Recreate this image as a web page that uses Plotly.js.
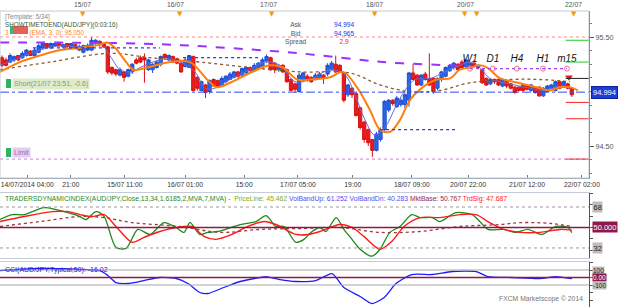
<!DOCTYPE html>
<html>
<head>
<meta charset="utf-8">
<script src="https://cdn.plot.ly/plotly-3.0.1.min.js"></script>
<style>
html,body{margin:0;padding:0;background:#fff;overflow:hidden}
#chart{width:625px;height:307px}
</style>
</head>
<body>
<div id="chart"></div>
<script>
// ================= DATA =================
const candleOpen = [
95.31,95.29,95.27,95.29,95.33,95.31,95.33,95.37,95.33,95.36,
95.40,95.44,95.40,95.42,95.44,95.41,95.44,95.40,95.43,95.38,
95.36,95.38,95.38,95.44,95.46,95.44,95.41,95.22,95.20,95.15,
95.18,95.14,95.18,95.29,95.31,95.31,95.20,95.20,95.22,95.25,
95.34,95.29,95.32,95.30,95.26,95.23,95.22,95.32,95.13,95.01,
95.06,95.00,95.11,95.10,95.06,95.09,95.11,95.13,95.18,95.15,
95.17,95.22,95.19,95.22,95.23,95.28,95.31,95.26,95.20,95.24,
95.20,95.11,95.07,95.00,95.11,95.14,95.13,95.11,95.12,95.15,
95.16,95.20,95.25,95.24,95.17,94.97,95.03,94.98,94.85,94.72,
94.65,94.56,94.46,94.56,94.65,94.83,94.92,94.86,94.88,94.88,
94.92,95.17,95.15,95.06,95.16,95.12,95.12,95.03,95.11,95.14,
95.19,95.22,95.25,95.27,95.23,95.23,95.26,95.22,95.20,95.12,
95.07,95.11,95.11,95.05,95.09,95.07,95.04,95.04,95.06,95.05,
95.01,95.04,95.04,94.96,95.00,95.03,95.01,95.09,95.04,95.07,
95.03];
const candleHigh = [
95.33,95.31,95.35,95.33,95.33,95.37,95.39,95.38,95.40,95.44,
95.44,95.44,95.45,95.44,95.44,95.44,95.44,95.44,95.44,95.43,
95.43,95.44,95.50,95.48,95.47,95.45,95.42,95.23,95.21,95.22,
95.19,95.21,95.26,95.31,95.33,95.35,95.30,95.26,95.28,95.33,
95.35,95.34,95.33,95.31,95.27,95.31,95.33,95.33,95.14,95.10,
95.07,95.11,95.12,95.11,95.14,95.15,95.18,95.19,95.19,95.22,
95.23,95.23,95.26,95.27,95.31,95.34,95.32,95.27,95.25,95.25,
95.21,95.12,95.08,95.17,95.18,95.16,95.14,95.17,95.18,95.16,
95.26,95.28,95.33,95.25,95.18,95.07,95.04,94.99,94.86,94.73,
94.66,94.56,94.63,94.67,94.92,94.93,94.93,94.96,94.94,94.99,
95.18,95.25,95.16,95.16,95.18,95.35,95.13,95.13,95.19,95.23,
95.25,95.27,95.26,95.29,95.30,95.27,95.29,95.25,95.21,95.13,
95.12,95.12,95.12,95.12,95.10,95.08,95.05,95.05,95.07,95.06,
95.07,95.05,95.05,95.04,95.06,95.07,95.10,95.10,95.10,95.08,
95.04];
const candleLow = [
95.22,95.23,95.26,95.27,95.28,95.30,95.32,95.33,95.33,95.35,
95.39,95.40,95.39,95.41,95.41,95.40,95.40,95.39,95.39,95.37,
95.35,95.37,95.37,95.42,95.41,95.40,95.16,95.15,95.14,95.14,
95.09,95.13,95.16,95.25,95.26,95.08,95.19,95.17,95.21,95.23,
95.29,95.28,95.26,95.25,95.17,95.22,95.22,95.00,95.01,95.00,
94.94,94.98,95.04,95.03,95.05,95.08,95.11,95.12,95.12,95.14,
95.16,95.18,95.18,95.20,95.22,95.26,95.19,95.17,95.18,95.17,
95.08,95.00,94.99,94.99,95.09,95.09,95.08,95.10,95.11,95.07,
95.14,95.19,95.17,95.17,94.90,94.95,94.94,94.77,94.65,94.53,
94.50,94.40,94.45,94.54,94.63,94.81,94.87,94.85,94.86,94.85,
94.86,95.11,95.05,95.05,95.10,95.05,94.98,95.01,95.09,95.13,
95.18,95.20,95.19,95.21,95.22,95.22,95.22,95.21,95.07,95.05,
95.06,95.07,95.05,95.04,95.03,95.02,94.98,95.00,95.00,95.01,
95.00,94.98,94.95,94.95,95.00,95.02,95.00,95.02,95.03,95.02,
94.95];
const candleClose = [
95.24,95.24,95.33,95.32,95.29,95.35,95.38,95.33,95.38,95.42,
95.44,95.41,95.44,95.44,95.42,95.43,95.41,95.44,95.40,95.41,
95.42,95.42,95.47,95.47,95.43,95.41,95.18,95.17,95.16,95.20,
95.13,95.20,95.25,95.26,95.27,95.29,95.29,95.25,95.27,95.32,
95.31,95.33,95.27,95.26,95.18,95.29,95.33,95.01,95.03,95.09,
94.99,95.10,95.05,95.05,95.12,95.14,95.16,95.18,95.14,95.21,
95.22,95.19,95.24,95.26,95.29,95.32,95.20,95.20,95.24,95.18,
95.09,95.01,95.02,95.15,95.17,95.11,95.09,95.15,95.16,95.12,
95.24,95.26,95.18,95.18,94.92,95.06,94.97,94.78,94.67,94.56,
94.53,94.46,94.61,94.65,94.91,94.92,94.89,94.94,94.92,94.97,
95.17,95.11,95.06,95.15,95.11,95.06,95.00,95.12,95.18,95.22,
95.24,95.26,95.20,95.22,95.29,95.26,95.23,95.24,95.08,95.06,
95.11,95.09,95.06,95.11,95.05,95.03,94.99,95.01,95.01,95.02,
95.06,94.99,94.96,95.03,95.05,95.06,95.09,95.03,95.09,95.03,
94.97];

// Moving averages on price panel (bar index, price)
const emaIdx = [-0.5,4.4,9.3,14.3,19.2,24.1,25.8,27.8,30.7,32.2,35.6,41.3,46.2,50.4,52.8,56,60.9,65.8,69,72.5,75.7,80.6,83.8,87.2,90.4,92.9,95.3,97.8,100.2,103.4,106.9,110.1,112.5,115,117.4,119.2,122.4,125.6,129,132.2,134.6,137.1,139.6,141.5];
const emaVal = [95.18,95.27,95.33,95.38,95.40,95.43,95.45,95.40,95.26,95.20,95.22,95.27,95.27,95.11,95.04,95.08,95.17,95.24,95.22,95.11,95.11,95.13,95.18,95.04,94.83,94.65,94.63,94.74,94.92,95.04,95.11,95.12,95.20,95.22,95.24,95.22,95.12,95.09,95.06,95.03,95.01,95.04,95.04,95.01];
const fastIdx = [-0.5,4.4,9.3,14.3,19.2,24.1,26.5,29,31.4,35.1,38.8,42.5,47.4,49.9,52.3,56,60.9,64.6,68.3,72,75.7,80.6,84.3,86.7,89.2,91.6,94.1,96.6,99,101.5,105.2,108.8,112.5,115,117.4,119.9,124.8,129.7,133.4,137.1,139.6];
const fastVal = [95.24,95.31,95.38,95.42,95.41,95.44,95.33,95.20,95.18,95.24,95.29,95.29,95.18,95.03,95.03,95.11,95.20,95.27,95.24,95.09,95.11,95.20,95.15,94.97,94.74,94.60,94.67,94.85,95.01,95.11,95.12,95.18,95.24,95.27,95.22,95.12,95.07,95.03,95.01,95.05,95.03];
const slowIdx = [-0.5,11.8,26.5,36.4,48.6,60.9,73.2,85.5,92.9,100.2,107.6,115,124.8,132.2,139.6];
const slowVal = [95.20,95.27,95.35,95.31,95.27,95.22,95.18,95.17,95.06,95.00,95.01,95.08,95.11,95.11,95.09];
const longIdx = [-0.5,33.9,51.1,73.2,93.6,110.1,115];
const longVal = [95.45,95.44,95.41,95.35,95.27,95.24,95.23];

// Pivot markers
const pivotIdx = [115,120.6,126.5,132.9,138.8];
const pivotVal = [95.21,95.21,95.21,95.21,95.21];
const pivotText = ['W1','D1','H4','H1','m15'];
const signalIdx = [139.3];
const signalVal = [95.13];

// Levels
const orderPrice = 94.994;
const stopLevel = 95.50;
const limitLevel = 94.38;
const rightLevels = [95.47,95.27,95.12,94.90,94.75,94.38];
const rightLevelColors = ['#22cc22','#22cc22','#222222','#ff2222','#ff2222','#ff2222'];
const srStart = [7.6,44.5,92.9];
const srEnd = [38.8,63.4,111.3];
const srLevel = [95.40,95.31,94.65];

// Axis labels
const priceTickVals = [94.5,95.5];
const priceTickText = ['94.50','95.50'];
const bottomTickIdx = [6.2,16.9,30.2,45,59.5,72.7,86.2,100.7,114.5,129,142.5];
const bottomTickText = ['14/07/2014 04:00','21:00','15/07 11:00','16/07 01:00','15:00','17/07 05:00','19:00','18/07 09:00','20/07 22:00','21/07 12:00','22/07 02:00'];
const dayIdx = [18,42,66,90,115,139];
const dayLabelIdx = [19.9,42.7,65.4,91.6,113.8,140.5];
const dayText = ['15/07','16/07','17/07','18/07','20/07','22/07'];
const triIdx = [19.9,43.7,66.3,91.6,113.8,116.7,140.5];

// TDI
const tdiIdx = [-0.5,2.5,5.4,10.3,13.3,16.2,19.2,20.6,23.1,25.1,28,30.5,33.4,36.4,39.8,42.8,44.7,46.2,48.6,50.6,53.1,58.5,62.4,64.9,67.3,69.3,72.2,74.2,76.2,78.1,79.6,82.1,84,86,88,90.9,92.9,95.3,97.8,100.7,102.7,105.7,107.6,111.5,115.5,117.4,119.4,123.3,126.3,129.2,132.7,136.1,139.1,140];
const tdiPrice = [57,61.3,61.3,67.4,65.7,63,59.6,57,63.9,59.6,32.6,31.7,48.3,43.9,54.3,50,45.7,54.3,43.9,45.7,46.5,52.6,55.2,60.4,50.9,50.9,37,39.6,46.5,50,46.5,58.7,48.3,39.6,30.9,24.8,30.9,45.7,50.9,61.3,58.7,58.7,55.2,63,61.3,55.2,48.3,48.3,45.7,48.3,43.9,50.9,50,45.5];
const sigIdx = [-0.5,5.4,12.3,16.2,19.2,22.1,25.1,28,32,34.9,38.8,42.8,46.7,49.6,52.6,56.5,60.4,64.4,67.3,72.2,75.2,78.1,83,86,88.9,92.9,95.8,98.8,102.7,107.6,112.5,116.5,119.4,123.3,127.3,132.2,137.1,140];
const tdiSignal = [55.2,59.6,63.9,63.9,61.3,59.6,61.3,50.9,37,41.3,46.5,50,50.9,42.2,39.6,43.9,50.9,55.2,52.6,43.9,43.9,46.5,52.6,50,42.2,30.9,37.8,50.9,58.7,58.7,61.3,61.3,55.2,48.3,45.7,45.7,48.3,47.7];
const baseIdx = [-0.5,9.3,19.2,25.1,32,43.7,53.6,63.4,73.2,83,92.9,102.7,112.5,122.4,127.3,135,140];
const tdiBase = [50.9,55.2,59.6,58.7,54.3,50.9,45.7,48.3,49.1,50,45.7,46.5,50.9,52.6,54.3,53.5,50.8];
const tdiLevels = [68,50,32];
const tdiLevelText = ['68','50.000','32'];
const tdiLegendNames = ['PriceLine','VolBandUp','VolBandDn','MktBase','TrdSig'];
const tdiLegendValues = ['45.462','61.252','40.283','50.767','47.687'];

// CCI
const cciIdx = [-0.5,9.3,19.2,24.1,26,28,31,34.9,38.8,42.8,45.7,48.6,50.6,54.5,58.5,63.4,64.9,68.3,72.2,77.1,81.1,84,88,90.9,93.9,96.8,100.7,105.7,110.6,116.5,119.4,125.3,132.2,136.1,140];
const cciVal = [93,120,107,93,27,-67,-80,-40,0,-13,-80,-200,-213,-133,-53,0,13,-27,-53,-40,53,-133,-253,-347,-267,-80,40,40,80,80,13,0,-13,13,-16];
const cciLevels = [100,0,-100];
const cciLevelText = ['100','0.00','-100'];
const cciLast = '-16.02';

// Quote box
const askPrice = '94.994', bidPrice = '94.965', spread = '2.9';

// ================= LAYOUT =================
const W = 625, H = 307;
const FONT = 'Liberation Sans, Arial, sans-serif';
const xRange = [-0.49, 144.23];
const xDomain = [0, 589 / W];
const barIndex = candleOpen.map((_, i) => i);
const PX = v => v / W, PY = v => 1 - v / H;

function txt(x, y, text, color, extra) {
  return Object.assign({xref:'paper', yref:'paper', x:PX(x), y:PY(y), text:text, showarrow:false,
    xanchor:'left', yanchor:'middle', font:{family:FONT, size:7, color:color}}, extra || {});
}

const traces = [];
traces.push({type:'candlestick', x:barIndex, open:candleOpen, high:candleHigh, low:candleLow, close:candleClose,
  xaxis:'x', yaxis:'y', whiskerwidth:0, hoverinfo:'skip',
  increasing:{line:{color:'#1f4fd0', width:1}, fillcolor:'#2a66e6'},
  decreasing:{line:{color:'#dd1111', width:1}, fillcolor:'#e81c1c'}});
traces.push({type:'scatter', mode:'lines', x:longIdx, y:longVal, xaxis:'x', yaxis:'y',
  line:{color:'#9b30ff', width:2, dash:'dash', shape:'spline'}, hoverinfo:'skip'});
traces.push({type:'scatter', mode:'lines', x:slowIdx, y:slowVal, xaxis:'x', yaxis:'y',
  line:{color:'#8b5a2b', width:1.3, dash:'dot', shape:'spline'}, hoverinfo:'skip'});
traces.push({type:'scatter', mode:'lines', x:fastIdx, y:fastVal, xaxis:'x', yaxis:'y',
  line:{color:'#6a6ad8', width:1, shape:'spline'}, hoverinfo:'skip'});
traces.push({type:'scatter', mode:'lines', x:emaIdx, y:emaVal, xaxis:'x', yaxis:'y',
  line:{color:'#ff7f0e', width:2, shape:'spline'}, hoverinfo:'skip'});
traces.push({type:'scatter', mode:'lines+markers+text', x:pivotIdx, y:pivotVal, text:pivotText, xaxis:'x', yaxis:'y',
  textposition:'top center', textfont:{family:FONT, size:10, style:'italic', color:'#111'},
  line:{color:'#a040f0', width:1.2, dash:'dot'}, marker:{symbol:'circle-open', size:5, color:'#f07090', line:{width:1}}, hoverinfo:'skip'});
traces.push({type:'scatter', mode:'markers', x:signalIdx, y:signalVal, xaxis:'x', yaxis:'y',
  marker:{symbol:'triangle-down', size:7, color:'#e02020'}, hoverinfo:'skip'});
// TDI
traces.push({type:'scatter', mode:'lines', x:baseIdx, y:tdiBase, xaxis:'x3', yaxis:'y2',
  line:{color:'#9a3a3a', width:1.3, dash:'dot', shape:'spline'}, hoverinfo:'skip'});
traces.push({type:'scatter', mode:'lines', x:tdiIdx, y:tdiPrice, xaxis:'x3', yaxis:'y2',
  line:{color:'#1a8a1a', width:1.3, shape:'spline', smoothing:0.8}, hoverinfo:'skip'});
traces.push({type:'scatter', mode:'lines', x:sigIdx, y:tdiSignal, xaxis:'x3', yaxis:'y2',
  line:{color:'#ff1a1a', width:1.4, shape:'spline', smoothing:0.8}, hoverinfo:'skip'});
// CCI
traces.push({type:'scatter', mode:'lines', x:cciIdx, y:cciVal, xaxis:'x4', yaxis:'y3',
  line:{color:'#1a1aff', width:1.3, shape:'spline', smoothing:0.6}, hoverinfo:'skip'});

const shapes = [];
shapes.push({type:'line', xref:'x', yref:'y', x0:xRange[0], x1:xRange[1], y0:stopLevel, y1:stopLevel, line:{color:'#ff8a8a', width:1, dash:'dot'}});
shapes.push({type:'line', xref:'x', yref:'y', x0:xRange[0], x1:xRange[1], y0:limitLevel, y1:limitLevel, line:{color:'#c77ee0', width:1, dash:'dot'}});
shapes.push({type:'line', xref:'x', yref:'y', x0:xRange[0], x1:xRange[1], y0:orderPrice, y1:orderPrice, line:{color:'#3048f0', width:1, dash:'dashdot'}});
srLevel.forEach((lv, k) => shapes.push({type:'line', xref:'x', yref:'y', x0:srStart[k], x1:srEnd[k], y0:lv, y1:lv, line:{color:'#2a3ae8', width:1.2, dash:'dot'}}));
rightLevels.forEach((lv, k) => shapes.push({type:'line', xref:'x', yref:'y', x0:138.5, x1:xRange[1], y0:lv, y1:lv, line:{color:rightLevelColors[k], width:1}}));
shapes.push({type:'line', xref:'x3', yref:'y2', x0:xRange[0], x1:xRange[1], y0:tdiLevels[0], y1:tdiLevels[0], line:{color:'#999', width:1, dash:'dot'}});
shapes.push({type:'line', xref:'x3', yref:'y2', x0:xRange[0], x1:xRange[1], y0:tdiLevels[2], y1:tdiLevels[2], line:{color:'#999', width:1, dash:'dot'}});
shapes.push({type:'line', xref:'x3', yref:'y2', x0:xRange[0], x1:xRange[1], y0:tdiLevels[1], y1:tdiLevels[1], line:{color:'#8b1a4a', width:1.3}});
shapes.push({type:'line', xref:'x4', yref:'y3', x0:xRange[0], x1:xRange[1], y0:cciLevels[0], y1:cciLevels[0], line:{color:'#a8a8a8', width:1.2}});
shapes.push({type:'line', xref:'x4', yref:'y3', x0:xRange[0], x1:xRange[1], y0:cciLevels[2], y1:cciLevels[2], line:{color:'#a8a8a8', width:1.2}});
shapes.push({type:'line', xref:'x4', yref:'y3', x0:xRange[0], x1:xRange[1], y0:cciLevels[1], y1:cciLevels[1], line:{color:'#8b1a4a', width:1.3}});
shapes.push({type:'rect', xref:'paper', yref:'paper', x0:PX(0), x1:PX(589), y0:PY(178), y1:PY(11), line:{color:'#c3ccd6', width:1}});
shapes.push({type:'rect', xref:'paper', yref:'paper', x0:PX(6), x1:PX(11), y0:PY(88), y1:PY(79), fillcolor:'#2db368', line:{width:0}});
shapes.push({type:'rect', xref:'paper', yref:'paper', x0:PX(6), x1:PX(11), y0:PY(157), y1:PY(148), fillcolor:'#2db368', line:{width:0}});
shapes.push({type:'rect', xref:'paper', yref:'paper', x0:PX(10), x1:PX(14), y0:PY(34), y1:PY(26), fillcolor:'#3cb371', line:{width:0}});
shapes.push({type:'rect', xref:'paper', yref:'paper', x0:PX(14), x1:PX(28), y0:PY(34), y1:PY(26), fillcolor:'#e8605a', line:{width:0}});

const annotations = [];
const nb = '&nbsp;';
annotations.push(txt(3, 25,
  '<span style="color:#888">[Template: 5/34]</span><br>' +
  '<span style="color:#3a5a3a">SHOWTIMETOEND(AUD/JPY)(0:03:16)</span><br>' +
  '<span style="color:#ff8c1a">3' + nb.repeat(12) + '(EMA, 3, 0): 95.050</span>', '#555',
  {align:'left', font:{family:FONT, size:6.3, color:'#555'}}));
annotations.push(txt(296, 33, 'Ask<br>Bid<br>Spread', '#555', {xanchor:'center', align:'center', font:{family:FONT, size:6.6, color:'#555'}}));
annotations.push(txt(344, 33,
  '<span style="color:#1a3adf">' + askPrice + '</span><br><span style="color:#1a3adf">' + bidPrice +
  '</span><br><span style="color:#ff2020">' + spread + '</span>', '#1a3adf',
  {xanchor:'center', align:'center', font:{family:FONT, size:6.6, color:'#1a3adf'}}));
annotations.push(txt(12, 83.5, 'Short(21/07 23:51, -0.6)', '#8a9a78', {bgcolor:'#dfeccc', borderpad:1}));
annotations.push(txt(12, 152.5, 'Limit', '#9a70b0', {bgcolor:'#e4cdef', borderpad:1}));
// top date labels
dayText.forEach((t, k) => annotations.push({xref:'x', yref:'paper', x:dayLabelIdx[k], y:PY(4.5), text:t, showarrow:false,
  xanchor:'center', yanchor:'middle', font:{family:FONT, size:6.8, color:'#555'}}));
triIdx.forEach(v => annotations.push({xref:'x', yref:'paper', x:v, y:PY(14), text:'▼', showarrow:false,
  font:{family:'DejaVu Sans', size:7, color:'#f59a10'}, xanchor:'center', yanchor:'middle'}));
annotations.push({xref:'paper', yref:'y', x:PX(591), y:orderPrice, text:orderPrice.toFixed(3), showarrow:false,
  xanchor:'left', yanchor:'middle', bgcolor:'#1f3ddc', bordercolor:'#0d1f9a', borderwidth:1, borderpad:1,
  font:{family:FONT, size:7.5, color:'#fff'}});
tdiLevels.forEach((lv, k) => annotations.push({xref:'paper', yref:'y2', x:PX(592), y:lv, text:tdiLevelText[k], showarrow:false,
  xanchor:'left', yanchor:'middle', bgcolor: k === 1 ? '#8b1a4a' : '#bdbdbd', borderpad:0.5,
  font:{family:FONT, size:7.5, color: k === 1 ? '#fff' : '#222'}}));
cciLevels.forEach((lv, k) => annotations.push({xref:'paper', yref:'y3', x:PX(592), y:lv, text:cciLevelText[k], showarrow:false,
  xanchor:'left', yanchor:'middle', bgcolor: k === 1 ? '#8b1a4a' : '#bdbdbd', borderpad:0,
  font:{family:FONT, size:6.5, color: k === 1 ? '#fff' : '#222'}}));
const legendColors = ['#88a820','#5a4af0','#5a4af0','#8b2a4a','#ff2020'];
let tdiHead = '<span style="color:#2a8a2a">TRADERSDYNAMICINDEX(AUD/JPY,Close,13,34,1.6185,2,MVA,7,MVA) - </span>';
tdiLegendNames.forEach((n, k) => { tdiHead += ' <span style="color:' + legendColors[k] + '">' + n + ': ' + tdiLegendValues[k] + '</span>'; });
annotations.push(txt(3, 199, tdiHead, '#2a8a2a', {font:{family:FONT, size:6.8, color:'#2a8a2a'}}));
annotations.push(txt(3, 270, 'CCI(AUD/JPY,Typical,50): ' + cciLast, '#2020dd'));
annotations.push(txt(585, 299, 'FXCM Marketscope © 2014', '#777', {xanchor:'right', font:{family:FONT, size:6.8, color:'#777'}}));

const axisBase = {zeroline:false, fixedrange:true};
const layout = {
  width:W, height:H, margin:{l:0, r:0, t:0, b:0},
  paper_bgcolor:'#ffffff', plot_bgcolor:'#ffffff', showlegend:false,
  font:{family:FONT, size:7, color:'#333'},
  boxgap:0.2, boxgroupgap:0,
  xaxis:Object.assign({}, axisBase, {domain:xDomain, range:xRange, anchor:'y', rangeslider:{visible:false},
    tickmode:'array', tickvals:bottomTickIdx, ticktext:bottomTickText, ticks:'inside', ticklen:3, tickcolor:'#777',
    showline:true, linecolor:'#8a96a3', showgrid:false, ticklabeloverflow:'allow',
    tickfont:{family:FONT, size:6.8, color:'#333'}}),
  xaxis2:Object.assign({}, axisBase, {overlaying:'x', side:'top', anchor:'y', range:xRange,
    tickmode:'array', tickvals:dayIdx, showticklabels:false, ticks:'outside', ticklen:3, tickcolor:'#777',
    showline:true, linecolor:'#8a96a3', showgrid:true, gridcolor:'#b0b0b0', griddash:'dot', gridwidth:1}),
  xaxis3:Object.assign({}, axisBase, {domain:xDomain, range:xRange, anchor:'y2', showticklabels:false, ticks:'',
    showline:true, linecolor:'#c3ccd6', mirror:true, showgrid:false}),
  xaxis4:Object.assign({}, axisBase, {domain:xDomain, range:xRange, anchor:'y3', showticklabels:false, ticks:'',
    showline:true, linecolor:'#c3ccd6', mirror:true, showgrid:false}),
  yaxis:Object.assign({}, axisBase, {domain:[1 - 178 / H, 1 - 11 / H], range:[94.2064, 95.7385], side:'right', anchor:'x',
    tickmode:'array', tickvals:priceTickVals, ticktext:priceTickText, ticks:'outside', ticklen:4, tickcolor:'#555',
    showline:true, linecolor:'#555', showgrid:false, tickfont:{family:FONT, size:7.2, color:'#555'},
    minor:{tickmode:'linear', tick0:94.5, dtick:0.125, ticks:'outside', ticklen:2, tickcolor:'#777', showgrid:false}}),
  yaxis2:Object.assign({}, axisBase, {domain:[1 - 258 / H, 1 - 193 / H], range:[23.2, 80.3], side:'right', anchor:'x3',
    showticklabels:false, ticks:'outside', tickmode:'linear', tick0:0, dtick:10, ticklen:3, tickcolor:'#555',
    showline:true, linecolor:'#555', showgrid:false}),
  yaxis3:Object.assign({}, axisBase, {domain:[0, 1 - 262 / H], range:[-393, 207], side:'right', anchor:'x4',
    showticklabels:false, ticks:'outside', tickmode:'linear', tick0:0, dtick:100, ticklen:3, tickcolor:'#555',
    showline:true, linecolor:'#555', showgrid:false}),
  shapes:shapes, annotations:annotations
};

Plotly.newPlot('chart', traces, layout, {staticPlot:true, displayModeBar:false});
</script>
</body>
</html>
